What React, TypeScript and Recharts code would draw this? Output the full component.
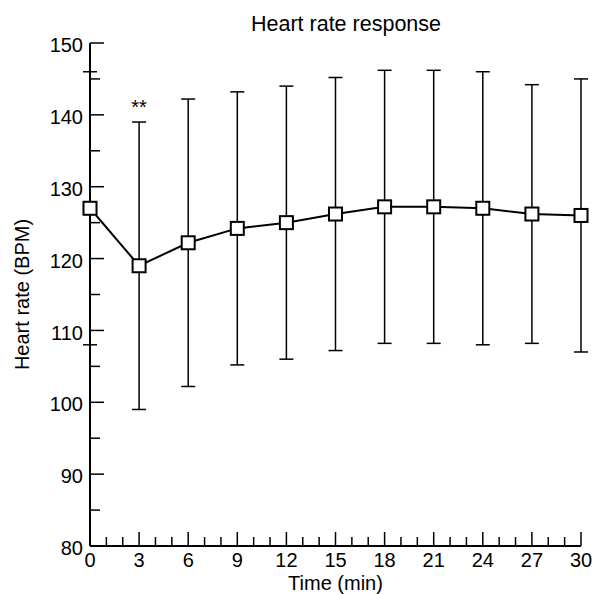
import { LineChart, Line, XAxis, YAxis, ErrorBar, ReferenceDot } from 'recharts'

// Heart rate (mean ± SD) over time
const times = [0, 3, 6, 9, 12, 15, 18, 21, 24, 27, 30]
const heartRate = [127, 119, 122.2, 124.2, 125, 126.2, 127.2, 127.2, 127, 126.2, 126]
const heartRateSd = [19, 20, 20, 19, 19, 19, 19, 19, 19, 18, 19]

const xTicks = [0, 1, 2, 3, 4, 5, 6, 7, 8, 9, 10, 11, 12, 13, 14, 15, 16, 17, 18, 19, 20, 21, 22, 23, 24, 25, 26, 27, 28, 29, 30]
const yTicks = [80, 85, 90, 95, 100, 105, 110, 115, 120, 125, 130, 135, 140, 145, 150]

// significance markers above the error bars
const significance = [{ time: 3, mark: '**' }]

const FONT = '"Liberation Sans", Arial, Helvetica, sans-serif'

const chartData = times.map((t, i) => ({ time: t, hr: heartRate[i], sd: heartRateSd[i] }))

function TimeTick({ x, y, payload }: any) {
  const v = payload.value
  const major = v % 3 === 0
  return (
    <g>
      <line x1={x} x2={x} y1={y} y2={y - (major ? 14 : 9)} stroke="#000" strokeWidth={1.5} />
      {major && (
        <text x={x} y={y + 14} dy="0.355em" textAnchor="middle" fontSize={20} fill="#000" fontFamily={FONT}>
          {v}
        </text>
      )}
    </g>
  )
}

function RateTick({ x, y, payload }: any) {
  const v = payload.value
  const major = v % 10 === 0
  return (
    <g>
      <line x1={x} x2={x + (major ? 14 : 10)} y1={y} y2={y} stroke="#000" strokeWidth={1.5} />
      {major && (
        <text x={x - 7} y={y + 2} dy="0.355em" textAnchor="end" fontSize={20} fill="#000" fontFamily={FONT}>
          {v}
        </text>
      )}
    </g>
  )
}

function SquareDot({ cx, cy, index }: any) {
  return <rect key={`sq-${index}`} x={cx - 6.5} y={cy - 6.5} width={13} height={13} fill="#fff" stroke="#000" strokeWidth={2} />
}

export default function App() {
  return (
    <div style={{ position: 'relative', width: 584, height: 586, fontFamily: FONT }}>
      <div
        style={{
          position: 'absolute',
          top: 4,
          left: 238,
          width: 200,
          textAlign: 'center',
          fontSize: 21.5,
          whiteSpace: 'nowrap',
          color: '#000',
        }}
      >
        Heart rate response
      </div>
      <LineChart
        width={584}
        height={586}
        data={chartData}
        margin={{ top: 35, right: 11, left: 12, bottom: 0 }}
        style={{ fontFamily: FONT }}
      >
        <XAxis
          dataKey="time"
          type="number"
          domain={[0, 30]}
          ticks={xTicks}
          interval={0}
          height={48}
          tickSize={0}
          tickMargin={0}
          tickLine={false}
          tick={<TimeTick />}
          axisLine={{ stroke: '#000', strokeWidth: 2 }}
          label={{ value: 'Time (min)', position: 'insideBottom', offset: 4, style: { fill: '#000', fontSize: 20 } }}
        />
        <YAxis
          type="number"
          domain={[80, 150]}
          ticks={yTicks}
          interval={0}
          width={70}
          tickSize={0}
          tickMargin={0}
          tickLine={false}
          tick={<RateTick />}
          axisLine={{ stroke: '#000', strokeWidth: 2 }}
          label={{
            value: 'Heart rate (BPM)',
            angle: -90,
            position: 'insideLeft',
            offset: 2,
            style: { fill: '#000', fontSize: 20, textAnchor: 'middle' },
          }}
        />
        <Line
          type="linear"
          dataKey="hr"
          stroke="#000"
          strokeWidth={2}
          dot={<SquareDot />}
          activeDot={false}
          isAnimationActive={false}
        >
          <ErrorBar dataKey="sd" direction="y" width={7} stroke="#000" strokeWidth={1.5} isAnimationActive={false} />
        </Line>
        {significance.map((s) => {
          const i = times.indexOf(s.time)
          return (
            <ReferenceDot
              key={s.time}
              x={s.time}
              y={heartRate[i] + heartRateSd[i]}
              r={0}
              fill="none"
              stroke="none"
              label={{ value: s.mark, position: 'top', offset: 8, style: { fill: '#000', fontSize: 20 } }}
            />
          )
        })}
      </LineChart>
    </div>
  )
}
